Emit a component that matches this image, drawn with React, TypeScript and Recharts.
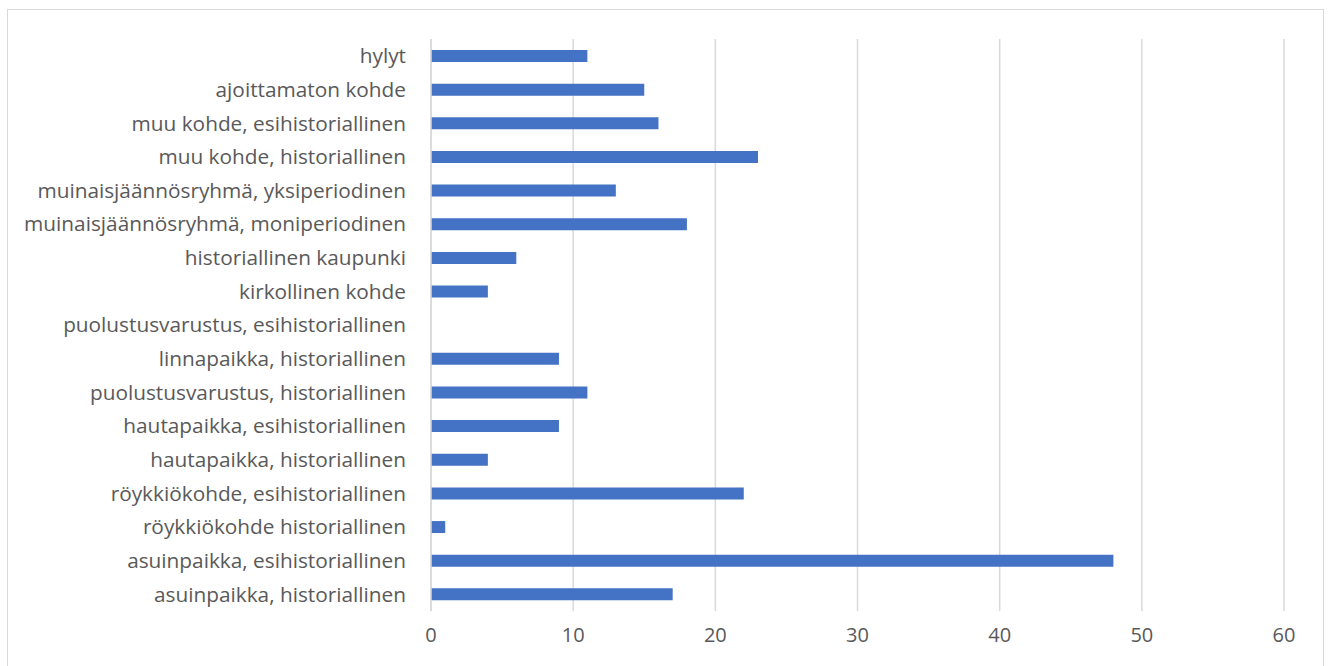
import { Bar, BarChart, CartesianGrid, XAxis, YAxis } from "recharts";

const categories = [
  "hylyt",
  "ajoittamaton kohde",
  "muu kohde, esihistoriallinen",
  "muu kohde, historiallinen",
  "muinaisjäännösryhmä, yksiperiodinen",
  "muinaisjäännösryhmä, moniperiodinen",
  "historiallinen kaupunki",
  "kirkollinen kohde",
  "puolustusvarustus, esihistoriallinen",
  "linnapaikka, historiallinen",
  "puolustusvarustus, historiallinen",
  "hautapaikka, esihistoriallinen",
  "hautapaikka, historiallinen",
  "röykkiökohde, esihistoriallinen",
  "röykkiökohde historiallinen",
  "asuinpaikka, esihistoriallinen",
  "asuinpaikka, historiallinen",
];

const counts = [11, 15, 16, 23, 13, 18, 6, 4, 0, 9, 11, 9, 4, 22, 1, 48, 17];

const xTicks = [0, 10, 20, 30, 40, 50, 60];

const BAR_COLOR = "#4472C4";
const GRID_COLOR = "#d9d9d9";
const TEXT_COLOR = "#595959";
const FONT = "'Open Sans', 'Noto Sans', sans-serif";

const data = categories.map((name, i) => ({ name, value: counts[i] }));

export default function App() {
  return (
    <div style={{ position: "absolute", left: 0, top: 0, width: 1331, height: 666, background: "#fff", fontFamily: FONT }}>
      <div
        style={{
          position: "absolute",
          left: 7,
          top: 9,
          width: 1317,
          height: 660,
          border: `1px solid ${GRID_COLOR}`,
          boxSizing: "border-box",
        }}
      />
      <div style={{ position: "absolute", left: 0, top: 0 }}>
        <BarChart
          width={1331}
          height={666}
          data={data}
          layout="vertical"
          margin={{ top: 39, right: 47, left: 0, bottom: 0 }}
        >
          <CartesianGrid horizontal={false} stroke={GRID_COLOR} strokeWidth={1.5} />
          <XAxis
            type="number"
            domain={[0, 60]}
            ticks={xTicks}
            axisLine={false}
            tickLine={false}
            tickSize={0}
            tickMargin={17}
            height={55}
            tick={{ fontSize: 20, fill: TEXT_COLOR, fontFamily: FONT }}
          />
          <YAxis
            type="category"
            dataKey="name"
            width={431}
            interval={0}
            axisLine={{ stroke: GRID_COLOR, strokeWidth: 1.5 }}
            tickLine={false}
            tickSize={0}
            tickMargin={25}
            tick={{ fontSize: 20.8, fill: TEXT_COLOR, fontFamily: FONT }}
          />
          <Bar dataKey="value" fill={BAR_COLOR} barSize={12} isAnimationActive={false} />
        </BarChart>
      </div>
    </div>
  );
}
